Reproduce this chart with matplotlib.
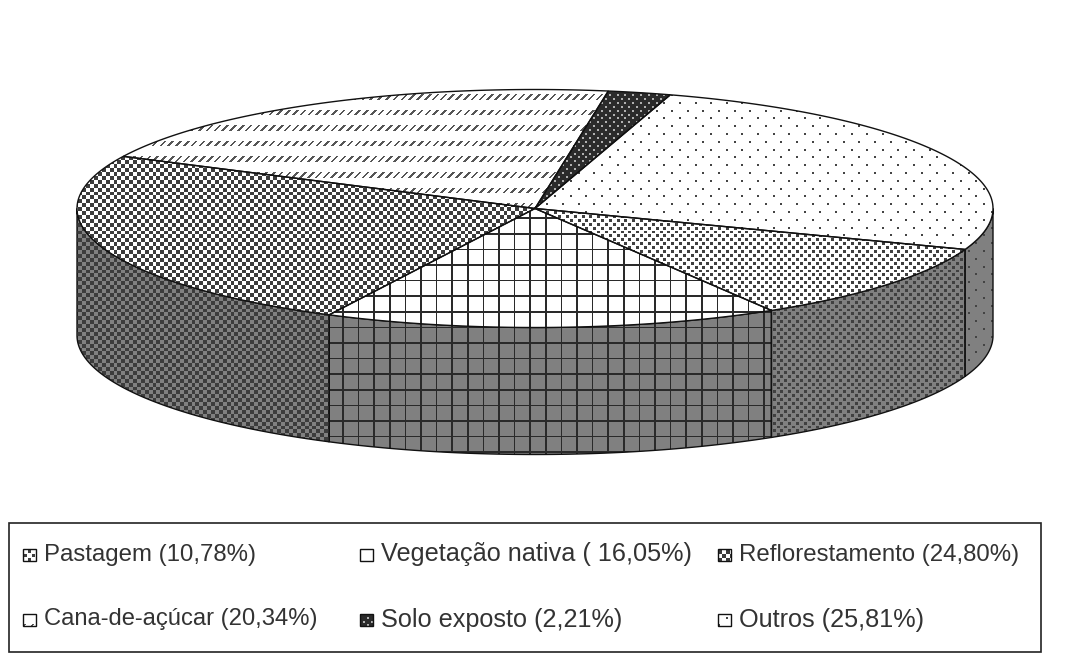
import numpy as np
import matplotlib
matplotlib.use('Agg')
import matplotlib.pyplot as plt
from matplotlib.patches import Polygon, Rectangle

# dados do grafico (sentido horario a partir de "Outros")
categorias = ['Outros', 'Pastagem', 'Vegetação nativa', 'Reflorestamento', 'Cana-de-açúcar', 'Solo exposto']
valores = [25.81, 10.78, 16.05, 24.80, 20.34, 2.21]
rotulos = ['Outros (25,81%)', 'Pastagem (10,78%)', 'Vegetação nativa ( 16,05%)',
           'Reflorestamento (24,80%)', 'Cana-de-açúcar (20,34%)', 'Solo exposto (2,21%)']

W, H = 1075, 660
cx, cy, rx, ry, prof = 535, 208.5, 458, 119, 127
inicio = 17.2
branco, cinza = '#ffffff', '#808080'
p = 7.8  # periodo basico das texturas, em pixels

yy, xx = np.indices((H, W))


def pontos(dx, dy, lx, ly):
    linha = np.floor(yy / dy) % 2
    return ((xx / dx + linha / 2) % 1 < lx / dx) & (yy % dy < ly)


# mascaras das texturas (True = cor da frente)
mascaras = {
    'Outros': pontos(2 * p, p, 2, 2),
    'Pastagem': pontos(p, p / 2, 3, 2.9),
    'Vegetação nativa': ((xx + 1.5) % (2 * p) < 1.7) | ((yy + 1.5) % (2 * p) < 1.7),
    'Reflorestamento': ((np.floor(xx / (p / 2)) + np.floor(yy / (p / 2))) % 2).astype(bool),
    'Cana-de-açúcar': (yy % (2 * p) < 5.5) & ((xx + yy) % p < 2.6),
    'Solo exposto': ~pontos(p, p / 2, 2, 2),
}
frente = {'Outros': '#444444', 'Pastagem': '#404040', 'Vegetação nativa': '#2a2a2a',
          'Reflorestamento': '#3c3c3c', 'Cana-de-açúcar': '#555555', 'Solo exposto': '#2b2b2b'}
fundo_solo = '#b0b0b0'


def preencher(ax, pts, nome, fundo, z):
    rgb_f = np.array(matplotlib.colors.to_rgb(frente[nome]))
    rgb_b = np.array(matplotlib.colors.to_rgb(fundo))
    img = np.where(mascaras[nome][..., None], rgb_f, rgb_b)
    im = ax.imshow(img, extent=(0, W, H, 0), interpolation='nearest', aspect='auto', zorder=z)
    pol = Polygon(pts, closed=True, fc='none', ec='#111111', lw=1.0, zorder=z + 0.5)
    ax.add_patch(pol)
    im.set_clip_path(pol)


fig = plt.figure(figsize=(W / 100, H / 100), dpi=100)
ax = fig.add_axes([0, 0, 1, 1])

angulos = inicio + np.concatenate([[0], np.cumsum(valores)]) * 3.6


def borda(t):
    t = np.radians(t)
    return cx + rx * np.sin(t), cy - ry * np.cos(t)


# paredes laterais
for i, nome in enumerate(categorias):
    a, b = max(angulos[i], 90), min(angulos[i + 1], 270)
    if a >= b:
        continue
    x, y = borda(np.linspace(a, b, 120))
    pts = np.r_[np.c_[x, y], np.c_[x[::-1], y[::-1] + prof]]
    fundo = fundo_solo if nome == 'Solo exposto' else cinza
    preencher(ax, pts, nome, fundo, 2)

# fatias do topo
for i, nome in enumerate(categorias):
    x, y = borda(np.linspace(angulos[i], angulos[i + 1], 120))
    pts = np.r_[[[cx, cy]], np.c_[x, y]]
    fundo = fundo_solo if nome == 'Solo exposto' else branco
    preencher(ax, pts, nome, fundo, 3)

# legenda
ax.add_patch(Rectangle((9, 523), 1032, 129, fc='white', ec='#222222', lw=1.2, zorder=4))
ordem = ['Pastagem', 'Vegetação nativa', 'Reflorestamento', 'Cana-de-açúcar', 'Solo exposto', 'Outros']
tamanhos = [17.3, 18.2, 17.3, 17.1, 18.2, 18.2]
col_x = [23, 360, 718]
lin_y = [555, 620]
for k, nome in enumerate(ordem):
    x0 = col_x[k % 3]
    y0 = lin_y[k // 3]
    quad = [(x0, y0 - 6), (x0 + 13, y0 - 6), (x0 + 13, y0 + 6), (x0, y0 + 6)]
    fundo = fundo_solo if nome == 'Solo exposto' else branco
    preencher(ax, quad, nome, fundo, 5)
    ax.text(x0 + 21, y0 - 0.5, rotulos[categorias.index(nome)], family='Liberation Sans', fontsize=tamanhos[k],
            color='#333333', va='center', ha='left', zorder=6)

ax.set_xlim(0, W)
ax.set_ylim(H, 0)
ax.axis('off')
fig.savefig('out.png', dpi=100, facecolor='white')
